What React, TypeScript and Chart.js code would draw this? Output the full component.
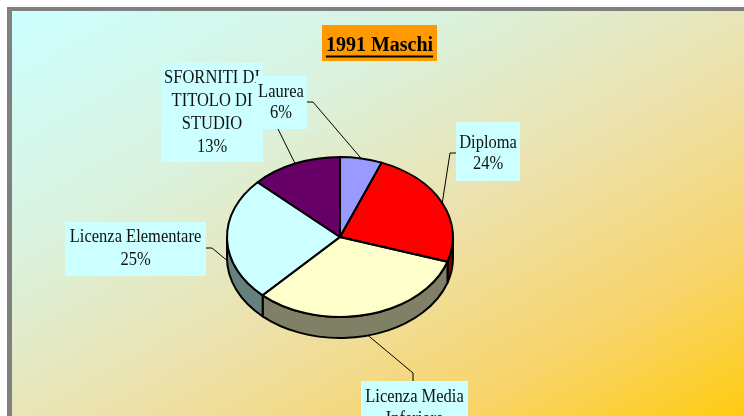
import React, { useEffect, useRef } from "react";
import { Chart, registerables } from "chart.js";

Chart.register(...registerables);

// ---- data ----
const title = "1991 Maschi";
const categories = [
  "Laurea",
  "Diploma",
  "Licenza Media Inferiore",
  "Licenza Elementare",
  "SFORNITI DI TITOLO DI STUDIO",
];
const labelLines = [
  ["Laurea"],
  ["Diploma"],
  ["Licenza Media", "Inferiore"],
  ["Licenza Elementare"],
  ["SFORNITI DI", "TITOLO DI", "STUDIO"],
];
const values = [6, 24, 32, 25, 13];
const colors = ["#9999FF", "#FF0000", "#FFFFCC", "#CCFFFF", "#660066"];

// ---- layout / style ----
const TILT = 80 / 113;
const DEPTH = 21;
const TEXT_STRETCH = 1.1;
const FONT = '16.5px "Liberation Serif", "Times New Roman", serif';
const LABEL_BG = "#CCFFFF";
// box x,y,w,h ; first line centre y ; line height ; elbow points from box to slice
const LABEL_LAYOUT = [
  { x: 256, y: 76, w: 51, h: 53, cx: 281, y0: 92, lh: 21, elbow: [[307, 102], [313, 102]] },
  { x: 456, y: 122, w: 64, h: 59, cx: 488, y0: 143, lh: 21, elbow: [[456, 153], [450, 153]] },
  { x: 361, y: 381, w: 107, h: 70, cx: 414.5, y0: 397, lh: 22, elbow: [[413, 381], [413, 373]] },
  { x: 65, y: 222, w: 141, h: 54, cx: 135.5, y0: 237, lh: 23, elbow: [[206, 248], [212, 248]] },
  { x: 161, y: 63, w: 102, h: 99, cx: 212, y0: 78, lh: 23, elbow: [[278, 129]] },
];
const DRAW_ORDER = [2, 3, 1, 4, 0];

function darken(hex: string, f: number) {
  const n = parseInt(hex.slice(1), 16);
  const r = Math.round(((n >> 16) & 255) * f);
  const g = Math.round(((n >> 8) & 255) * f);
  const b = Math.round((n & 255) * f);
  return `rgb(${r},${g},${b})`;
}

function stretchedText(ctx: CanvasRenderingContext2D, t: string, x: number, y: number) {
  ctx.save();
  ctx.translate(x, y);
  ctx.scale(1, TEXT_STRETCH);
  ctx.fillText(t, 0, 0);
  ctx.restore();
}

const pie3d = {
  id: "pie3d",
  beforeDraw(chart: any) {
    const ctx = chart.ctx as CanvasRenderingContext2D;
    const W = chart.width;
    const H = chart.height;
    ctx.save();
    ctx.fillStyle = "#FFFFFF";
    ctx.fillRect(0, 0, W, H);
    ctx.fillStyle = "#808080";
    ctx.fillRect(7, 7, W - 7, H - 7);
    const g = ctx.createLinearGradient(12, 12, 354, 631);
    g.addColorStop(0, "#CCFFFF");
    g.addColorStop(0.3, "#daf2de");
    g.addColorStop(0.55, "#ece2ae");
    g.addColorStop(0.8, "#f8d46a");
    g.addColorStop(1, "#FFCC10");
    ctx.fillStyle = g;
    ctx.fillRect(12, 11, W - 12, H - 11);
    ctx.restore();
  },
  beforeDatasetsDraw(chart: any) {
    const ctx = chart.ctx as CanvasRenderingContext2D;
    const arcs = chart.getDatasetMeta(0).data as any[];
    if (!arcs.length) return;
    const { x, y, outerRadius: r } = arcs[0];
    const ry = r * TILT;
    ctx.save();
    ctx.lineWidth = 2;
    ctx.strokeStyle = "#000";
    ctx.lineJoin = "round";
    arcs.forEach((arc, i) => {
      const a = Math.max(arc.startAngle, 0);
      const b = Math.min(arc.endAngle, Math.PI);
      if (a >= b) return;
      ctx.beginPath();
      ctx.ellipse(x, y, r, ry, 0, a, b, false);
      ctx.lineTo(x + r * Math.cos(b), y + ry * Math.sin(b) + DEPTH);
      ctx.ellipse(x, y + DEPTH, r, ry, 0, b, a, true);
      ctx.closePath();
      ctx.fillStyle = darken(colors[i], 0.5);
      ctx.fill();
      ctx.stroke();
    });
    ctx.restore();
    ctx.save();
    ctx.translate(x, y);
    ctx.scale(1, TILT);
    ctx.translate(-x, -y);
  },
  afterDatasetsDraw(chart: any) {
    const ctx = chart.ctx as CanvasRenderingContext2D;
    ctx.restore();
    const arcs = chart.getDatasetMeta(0).data as any[];
    if (!arcs.length) return;
    const { x, y, outerRadius: r } = arcs[0];
    const ry = r * TILT;
    ctx.save();
    ctx.lineWidth = 2;
    ctx.strokeStyle = "#000";
    ctx.lineJoin = "round";
    arcs.forEach((arc) => {
      ctx.beginPath();
      ctx.moveTo(x, y);
      ctx.ellipse(x, y, r, ry, 0, arc.startAngle, arc.endAngle, false);
      ctx.closePath();
      ctx.stroke();
    });
    ctx.restore();
  },
  afterDraw(chart: any) {
    const ctx = chart.ctx as CanvasRenderingContext2D;
    const arcs = chart.getDatasetMeta(0).data as any[];
    if (!arcs.length) return;
    const { x, y, outerRadius: r } = arcs[0];
    const ry = r * TILT;
    const total = values.reduce((s, v) => s + v, 0);
    ctx.save();
    // leader lines
    ctx.strokeStyle = "#000";
    ctx.lineWidth = 1;
    arcs.forEach((arc, i) => {
      const m = (arc.startAngle + arc.endAngle) / 2;
      const s = Math.sin(m);
      const ax = x + r * Math.cos(m);
      const ay = y + ry * s + (s > 0 ? DEPTH : 0);
      const L = LABEL_LAYOUT[i];
      ctx.beginPath();
      ctx.moveTo(L.elbow[0][0], L.elbow[0][1]);
      for (let k = 1; k < L.elbow.length; k++) ctx.lineTo(L.elbow[k][0], L.elbow[k][1]);
      ctx.lineTo(ax, ay);
      ctx.stroke();
    });
    // label boxes
    ctx.font = FONT;
    ctx.textAlign = "center";
    ctx.textBaseline = "middle";
    DRAW_ORDER.forEach((i) => {
      const L = LABEL_LAYOUT[i];
      ctx.fillStyle = LABEL_BG;
      ctx.fillRect(L.x, L.y, L.w, L.h);
      ctx.fillStyle = "#111";
      const pct = Math.round((values[i] / total) * 100) + "%";
      const lines = [...labelLines[i], pct];
      lines.forEach((t, k) => stretchedText(ctx, t, L.cx, L.y0 + k * L.lh));
    });
    // title
    ctx.fillStyle = "#FF9900";
    ctx.fillRect(322, 25, 115, 36);
    ctx.fillStyle = "#000";
    ctx.font = 'bold 20px "Liberation Serif", "Times New Roman", serif';
    ctx.textBaseline = "alphabetic";
    stretchedText(ctx, title, 379.5, 51);
    const tw = ctx.measureText(title).width;
    ctx.fillRect(379.5 - tw / 2, 55.5, tw, 2);
    ctx.restore();
  },
};

export default function App() {
  const ref = useRef<HTMLCanvasElement>(null);
  useEffect(() => {
    if (!ref.current) return;
    const chart = new Chart(ref.current, {
      type: "pie",
      data: {
        labels: categories,
        datasets: [
          {
            data: values,
            backgroundColor: colors,
            borderWidth: 0,
            hoverBorderWidth: 0,
            hoverOffset: 0,
          } as any,
        ],
      },
      options: {
        responsive: false,
        animation: false,
        devicePixelRatio: 1,
        events: [],
        layout: { padding: { left: 227, right: 291, top: 124, bottom: 66 } },
        plugins: {
          legend: { display: false },
          tooltip: { enabled: false },
          title: { display: false },
        },
      } as any,
      plugins: [pie3d as any],
    });
    return () => chart.destroy();
  }, []);
  return (
    <div style={{ position: "absolute", left: 0, top: 0, width: 744, height: 416, overflow: "hidden" }}>
      <canvas ref={ref} width={744} height={416} style={{ display: "block" }} />
    </div>
  );
}
